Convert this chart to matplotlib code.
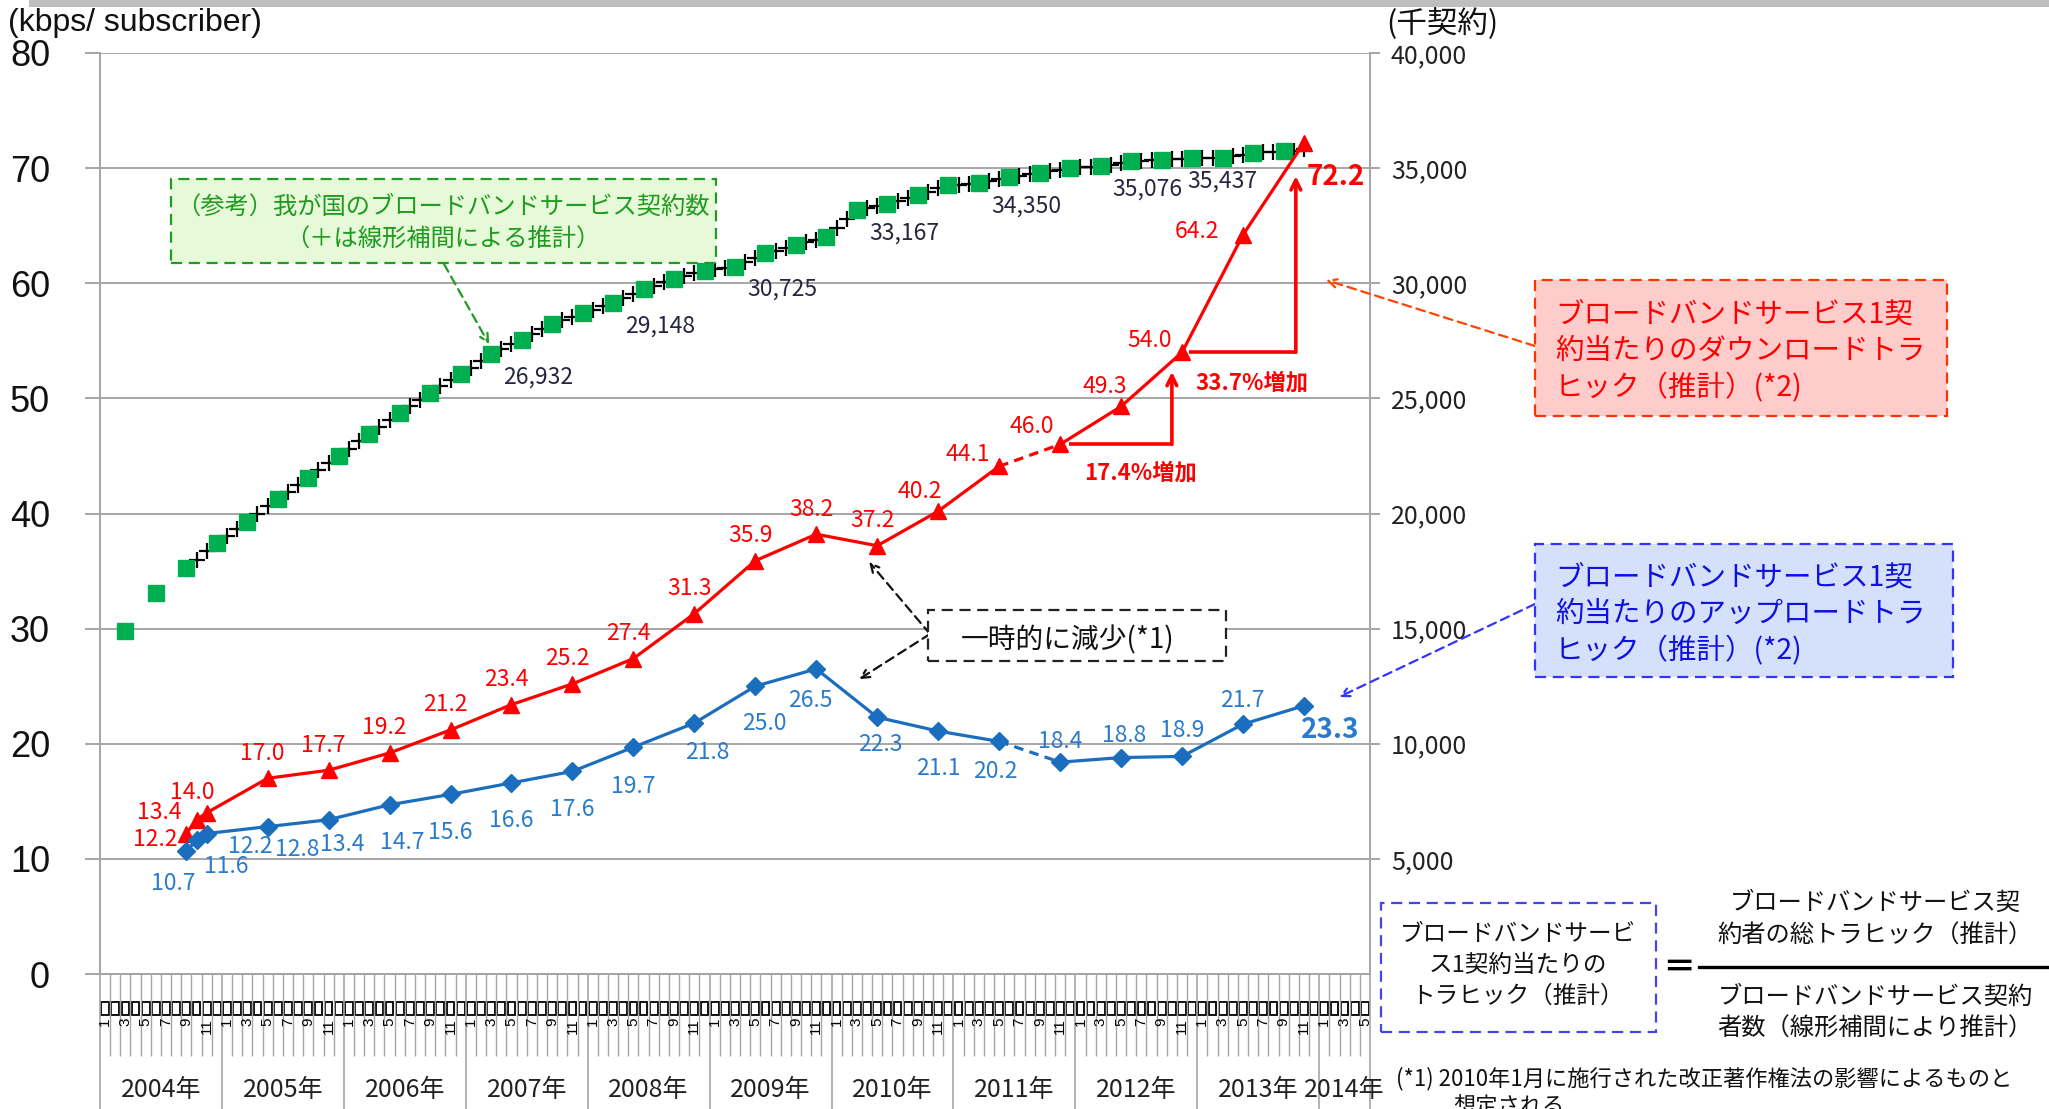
import numpy as np
import matplotlib
matplotlib.use("Agg")
import matplotlib.pyplot as plt
import matplotlib.transforms as mtransforms
from matplotlib.patches import Rectangle
from matplotlib.lines import Line2D

plt.rcParams['font.family'] = ['Noto Sans CJK JP', 'DejaVu Sans']

# ---------------- data ----------------
traffic_months = ["2004-09", "2004-10", "2004-11", "2005-05", "2005-11", "2006-05", "2006-11",
                  "2007-05", "2007-11", "2008-05", "2008-11", "2009-05", "2009-11", "2010-05",
                  "2010-11", "2011-05", "2011-11", "2012-05", "2012-11", "2013-05", "2013-11"]
download = [12.2, 13.4, 14.0, 17.0, 17.7, 19.2, 21.2, 23.4, 25.2, 27.4, 31.3, 35.9, 38.2,
            37.2, 40.2, 44.1, 46.0, 49.3, 54.0, 64.2, 72.2]
upload = [10.7, 11.6, 12.2, 12.8, 13.4, 14.7, 15.6, 16.6, 17.6, 19.7, 21.8, 25.0, 26.5,
          22.3, 21.1, 20.2, 18.4, 18.8, 18.9, 21.7, 23.3]

# broadband subscribers (thousand), quarterly Mar 2004 - Sep 2013
subs_months = [f"{y}-{m:02d}" for y in range(2004, 2014) for m in (3, 6, 9, 12)][:39]
subs = [14900, 16550, 17650, 18700, 19650, 20650, 21550, 22500, 23450, 24350, 25250, 26050,
        26932, 27550, 28250, 28700, 29148, 29750, 30200, 30550, 30725, 31300, 31650, 32000,
        33167, 33450, 33850, 34250, 34350, 34600, 34800, 35000, 35076, 35290, 35370, 35430,
        35437, 35650, 35730]
subs_labeled = ["2007-03", "2008-03", "2009-03", "2010-03", "2011-03", "2012-03", "2013-03"]

# months estimated by linear interpolation (+ marks), Oct 2004 - Nov 2013
interp_months = [f"{2004 + k // 12}-{k % 12 + 1:02d}" for k in range(9, 119) if k % 3 != 2]
interp_subs = [18000, 18350, 19020, 19330, 19980, 20320, 20950, 21250, 21870, 22180,
               22820, 23130, 23750, 24050, 24650, 24950, 25520, 25780, 26340, 26640,
               27140, 27340, 27780, 28020, 28400, 28550, 28850, 29000, 29350, 29550,
               29900, 30050, 30320, 30430, 30610, 30670, 30920, 31110, 31420, 31530,
               31770, 31880, 32390, 32780, 33260, 33360, 33580, 33720, 33980, 34120,
               34280, 34320, 34430, 34520, 34670, 34730, 34870, 34930, 35030, 35050,
               35150, 35220, 35320, 35340, 35390, 35410, 35430, 35435, 35510, 35580,
               35680, 35700, 35760, 35810]

years = list(range(2004, 2015))
month_ticks = ["1", "3", "5", "7", "9", "11"]
n_months = 125  # Jan 2004 - May 2014


def midx(s):
    y, m = s.split("-")
    return (int(y) - 2004) * 12 + int(m) - 1 + 0.5


# ---------------- layout helpers ----------------
W, H = 2049, 1109
L, R, T, B = 100, 1370, 53, 974
fig = plt.figure(figsize=(W / 100, H / 100), dpi=100)


def fxy(x, y):
    return (x / W, 1 - y / H)


def ftext(x, y, s, **kw):
    kw.setdefault("zorder", 7)
    fig.text(x / W, 1 - y / H, s, **kw)


def dashed_box(x0, y0, x1, y1, fc, ec):
    fig.add_artist(Rectangle(fxy(x0, y1), (x1 - x0) / W, (y1 - y0) / H,
                             transform=fig.transFigure, facecolor=fc, edgecolor=ec,
                             lw=1.6, linestyle=(0, (5, 3)), zorder=5))


grid_c = "#a6a6a6"
red = "#ff0000"
blue_line = "#1a6ebd"
blue_txt = "#2a7bcb"
green = "#00b050"

ax = fig.add_axes([L / W, 1 - B / H, (R - L) / W, (B - T) / H])
ax2 = ax.twinx()
ax.set_zorder(ax2.get_zorder() + 1)
ax.patch.set_visible(False)

ax.set_xlim(0, n_months)
ax.set_ylim(0, 80)
ax2.set_ylim(0, 40000)

for a in (ax, ax2):
    for sp in a.spines.values():
        sp.set_color(grid_c)
        sp.set_linewidth(1.4)
    a.spines["top"].set_visible(False)

# gridlines on the subscriber axis (drawn under squares)
ax2.set_yticks(np.arange(5000, 40001, 5000))
ax2.set_yticklabels([f"{v:,}" for v in range(5000, 40001, 5000)])
ax2.grid(axis="y", color=grid_c, lw=1.4)
ax2.tick_params(axis="y", length=7, width=1.4, color=grid_c, pad=8, labelsize=18,
                labelcolor="#222222")

ax.set_yticks(np.arange(0, 81, 10))
ax.tick_params(axis="y", length=11, width=1.4, color=grid_c, pad=25, labelsize=26,
               labelcolor="#111111")
for lbl in ax.get_yticklabels():
    lbl.set_fontfamily("Liberation Sans")

# category x axis: month ticks and year separators
ax.set_xticks(np.arange(0, n_months + 1, 12).tolist() + [n_months])
ax.set_xticklabels([])
ax.set_xticks(np.arange(0, n_months + 1), minor=True)
ax.tick_params(axis="x", which="major", length=100, width=1.2, color=grid_c)
ax.tick_params(axis="x", which="minor", length=59, width=1.0, color=grid_c)

trans = mtransforms.blended_transform_factory(ax.transData, ax.transAxes)


def ay(ypx):
    return (B - ypx) / (B - T)


for k in range(n_months):
    ax.add_patch(Rectangle((k + 0.12, ay(1015)), 0.76, ay(1002) - ay(1015), transform=trans,
                           fill=False, edgecolor="black", lw=1.3, clip_on=False))
    if k % 2 == 0:
        ax.text(k + 0.5, ay(1018), month_ticks[(k % 12) // 2], transform=trans, rotation=90,
                ha="center", va="top", fontsize=11, family="Liberation Sans", clip_on=False)
for y in years:
    start = (y - 2004) * 12
    end = min(start + 12, n_months)
    ax.text((start + end) / 2, ay(1090), f"{y}年", transform=trans, ha="center",
            va="center", fontsize=18, color="#222222", clip_on=False)

# ---------------- subscribers ----------------
ax2.plot([midx(m) for m in interp_months], interp_subs, ls="none", marker="+", ms=11,
         mew=1.6, color="black", zorder=3)
ax2.plot([midx(m) for m in subs_months], subs, ls="none", marker="s", ms=11.5,
         color=green, zorder=4)
for m in subs_labeled:
    v = subs[subs_months.index(m)]
    dx = -35 if m == "2013-03" else 12
    ax2.annotate(f"{v:,}", (midx(m), v), xytext=(dx, -23), textcoords="offset pixels",
                 ha="left", va="center", fontsize=16.5, color="#262640", zorder=6)

# ---------------- traffic lines ----------------
tx = [midx(m) for m in traffic_months]
gap = 15  # May 2011 -> Nov 2011 drawn dashed
for vals, col, mk, ms in ((download, red, "^", 11), (upload, blue_line, "D", 9)):
    ax.plot(tx[:gap + 1], vals[:gap + 1], color=col, lw=2.3, marker=mk, ms=ms, zorder=5)
    ax.plot(tx[gap:gap + 2], vals[gap:gap + 2], color=col, lw=2.3, ls=(0, (3, 2)), zorder=5)
    ax.plot(tx[gap + 1:], vals[gap + 1:], color=col, lw=2.3, marker=mk, ms=ms, zorder=5)

red_off = [(-31, 6), (-37, -7), (-14, -20)] + [(-5, -25)] * 11 + \
          [(-18, -20), (-31, -12), (-28, -18), (-16, -20), (-32, -12), (-46, -3)]
for i in range(len(download) - 1):
    dx, dy = red_off[i]
    ax.annotate(f"{download[i]:.1f}", (tx[i], download[i]), xytext=(dx, -dy),
                textcoords="offset pixels", ha="center", va="center", fontsize=16.5,
                color=red, zorder=6)
ax.annotate(f"{download[-1]:.1f}", (tx[-1], download[-1]), xytext=(32, -34),
            textcoords="offset pixels", ha="center", va="center", fontsize=20,
            fontweight="bold", color=red, zorder=6)

blue_off = [(-13, 33), (30, 26), (44, 13), (30, 23), (14, 25), (13, 38), (0, 38), (0, 38),
            (0, 38), (0, 39), (13, 29), (9, 37), (-6, 32), (3, 27), (0, 37), (-4, 30),
            (0, -21), (3, -22), (0, -26), (-1, -24)]
for i in range(len(upload) - 1):
    dx, dy = blue_off[i]
    ax.annotate(f"{upload[i]:.1f}", (tx[i], upload[i]), xytext=(dx, -dy),
                textcoords="offset pixels", ha="center", va="center", fontsize=16.5,
                color=blue_txt, zorder=6)
ax.annotate(f"{upload[-1]:.1f}", (tx[-1], upload[-1]), xytext=(26, -24),
            textcoords="offset pixels", ha="center", va="center", fontsize=20,
            fontweight="bold", color=blue_txt, zorder=6)

# growth brackets
for (i0, i1, x0, xv, ytop) in ((16, 18, 95.4, 105.5, 52.3), (18, 20, 107.2, 117.7, 69.3)):
    ax.plot([x0, xv], [download[i0], download[i0]], color=red, lw=2.6, zorder=6,
            solid_capstyle="butt")
    ax.annotate("", xy=(xv, ytop), xytext=(xv, download[i0]),
                arrowprops=dict(arrowstyle="->,head_length=0.7,head_width=0.35", color=red,
                                lw=2.6, shrinkA=0, shrinkB=0), zorder=6)
ftext(1141, 473, "17.4%増加", ha="center", va="center", fontsize=16, fontweight="bold",
      color=red)
ftext(1252, 383, "33.7%増加", ha="center", va="center", fontsize=16, fontweight="bold",
      color=red)

# ---------------- annotation boxes ----------------
arrow_kw = dict(arrowstyle="->,head_length=0.6,head_width=0.3", linestyle=(0, (4, 2.5)),
                lw=1.6, shrinkA=0, shrinkB=0)

# green note
dashed_box(171, 179, 716, 263, "#e6f9d8", "#1f9b1f")
ftext(443, 207, "（参考）我が国のブロードバンドサービス契約数", ha="center", va="center",
      fontsize=17.5, color="#1f9b1f")
ftext(443, 240, "（＋は線形補間による推計）", ha="center", va="center", fontsize=17.5,
      color="#1f9b1f")
ax2.annotate("", xy=(38.3, 27350), xytext=fxy(444, 264), textcoords="figure fraction",
             arrowprops=dict(color="#1f9b1f", **arrow_kw), annotation_clip=False)

# download note
dashed_box(1535, 280, 1947, 416, "#ffcccc", "#ff3300")
for k, s in enumerate(["ブロードバンドサービス1契", "約当たりのダウンロードトラ", "ヒック（推計）(*2)"]):
    ftext(1555, 314 + k * 37, s, ha="left", va="center", fontsize=20.5, color=red)
ax.annotate("", xy=fxy(1326, 280), xycoords="figure fraction", xytext=fxy(1535, 346),
            textcoords="figure fraction",
            arrowprops=dict(color="#ff4400", **arrow_kw), annotation_clip=False)

# upload note
dashed_box(1535, 544, 1953, 677, "#d5e1fb", "#3333ff")
for k, s in enumerate(["ブロードバンドサービス1契", "約当たりのアップロードトラ", "ヒック（推計）(*2)"]):
    ftext(1555, 577 + k * 37, s, ha="left", va="center", fontsize=20.5, color="#1010e0")
ax.annotate("", xy=fxy(1339, 697), xycoords="figure fraction", xytext=fxy(1535, 604),
            textcoords="figure fraction",
            arrowprops=dict(color="#3333ff", **arrow_kw), annotation_clip=False)

# temporary decrease
dashed_box(928, 610, 1226, 661, "white", "#222222")
ftext(1068, 640, "一時的に減少(*1)", ha="center", va="center", fontsize=20, color="#111111")
for tip in ((75.7, 35.8), (74.7, 25.6)):
    ax.annotate("", xy=tip, xytext=fxy(930, 634), textcoords="figure fraction",
                arrowprops=dict(color="#111111", **arrow_kw), annotation_clip=False)

# definition formula
dashed_box(1381, 903, 1656, 1032, "white", "#4444ee")
for k, s in enumerate(["ブロードバンドサービ", "ス1契約当たりの", "トラヒック（推計）"]):
    ftext(1518, 934 + k * 31, s, ha="center", va="center", fontsize=17, color="#111111")
ftext(1679, 968, "＝", ha="center", va="center", fontsize=24, fontweight="bold",
      color="black")
fig.add_artist(Line2D([1699 / W, 1.0], [1 - 967 / H] * 2, transform=fig.transFigure,
                      color="black", lw=2.4))
for k, s in enumerate(["ブロードバンドサービス契", "約者の総トラヒック（推計）"]):
    ftext(1875, 903 + k * 33, s, ha="center", va="center", fontsize=17.5, color="#111111")
for k, s in enumerate(["ブロードバンドサービス契約", "者数（線形補間により推計）"]):
    ftext(1875, 997 + k * 32, s, ha="center", va="center", fontsize=17.5, color="#111111")

# footnote (second line runs off the bottom as in the source slide)
ftext(1396, 1079, "(*1) 2010年1月に施行された改正著作権法の影響によるものと", ha="left",
      va="center", fontsize=16, color="#111111")
ftext(1453, 1096, "想定される", ha="left", va="top", fontsize=16, color="#111111")

# axis titles and top band
ftext(8, 23, "(kbps/ subscriber)", ha="left", va="center", fontsize=23,
      family="Liberation Sans", color="#111111")
ftext(1386, 24, "(千契約)", ha="left", va="center", fontsize=22, color="#111111")
fig.add_artist(Rectangle((29 / W, 1 - 7 / H), 1 - 29 / W, 7 / H, transform=fig.transFigure,
                         facecolor="#bfbfbf", edgecolor="none", zorder=5))

fig.savefig("out.png", dpi=100)
